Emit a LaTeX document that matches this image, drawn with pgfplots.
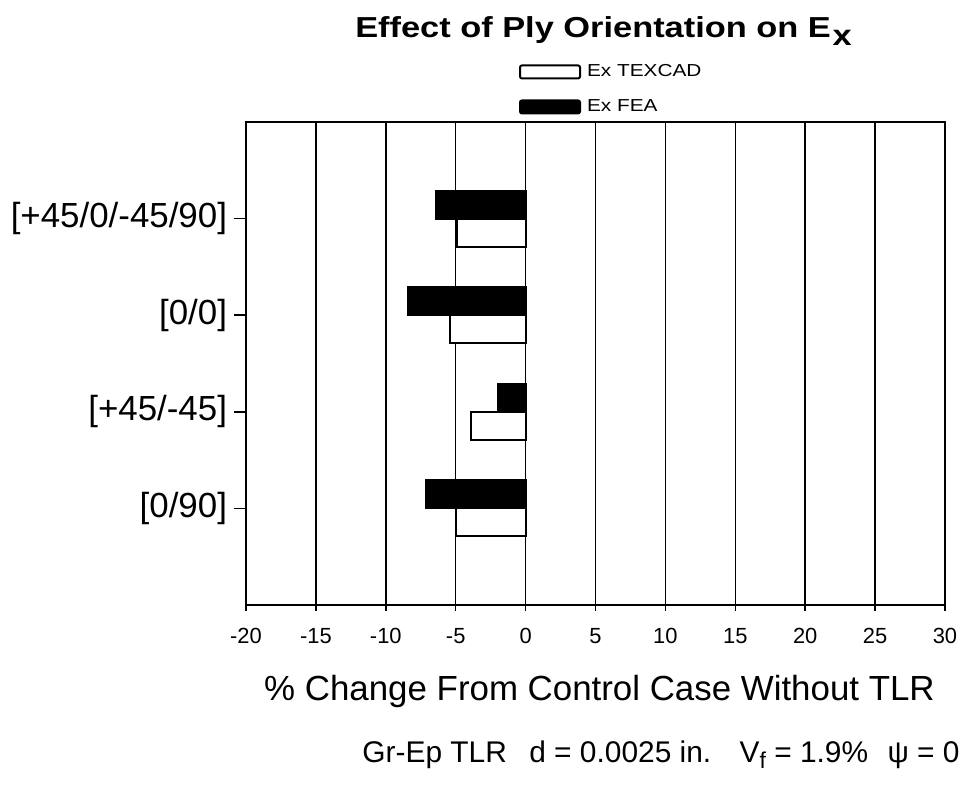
\documentclass[border=0pt]{standalone}
\usepackage{pgfplots}
\pgfplotsset{compat=1.18}
\usepackage{fontspec}
\setmainfont{Liberation Sans}
\begin{document}
\begin{tikzpicture}
\useasboundingbox (-123bp,-93bp) rectangle (359.5bp,302.5bp);
\begin{axis}[
  scale only axis, width=349.5bp, height=241.5bp,
  at={(0,0)}, anchor=south west,
  xbar, bar width=14bp,
  xmin=-20, xmax=30, ymin=0, ymax=5,
  xtick={-20,-15,...,30}, ytick={1,2,3,4},
  yticklabels={{[0/90]},{[+45/-45]},{[0/0]},{[+45/0/-45/90]}},
  xtick pos=bottom, ytick pos=left,
  tick align=center, major tick length=6bp,
  tick style={black, line width=0.75bp},
  ytick style={xshift=-3bp},
  xmajorgrids, major x grid style={black, line width=0.75bp},
  axis line style={line width=1bp},
  /pgf/number format/assume math mode=true,
  xticklabel style={font=\fontsize{11}{13}\selectfont, yshift=-5bp},
  yticklabel style={font=\fontsize{17.5}{20}\selectfont, xshift=-3bp},
  legend cell align=left,
  legend style={draw=none, fill=none, at={(0.39,1.12)}, anchor=north west,
    font=\fontsize{8.7}{10}\selectfont, row sep=10bp, column sep=3bp, inner sep=0pt,
    nodes={inner sep=0pt, text height=6bp, text depth=1bp}},
  legend image code/.code={\draw[#1, line width=1bp, rounded corners=1bp] (0bp,-3.25bp) rectangle (30bp,3.25bp);},
  clip=false,
]
\addplot[draw=black, fill=white, line width=1bp, bar shift=-7bp] coordinates {(-5.0,1) (-3.9,2) (-5.4,3) (-4.9,4)};
\addlegendentry{\scalebox{1.2}[1]{Ex TEXCAD}}
\addplot[draw=black, fill=black, line width=1bp, bar shift=7bp] coordinates {(-7.1,1) (-2.0,2) (-8.4,3) (-6.4,4)};
\addlegendentry{\scalebox{1.2}[1]{Ex FEA}}
\node[anchor=base, font=\fontsize{14.5}{17}\selectfont\bfseries, xshift=4bp, yshift=42.5bp] at (rel axis cs:0.5,1)
  {\scalebox{1.19}[1]{Effect of Ply Orientation on E\kern0.05em\raisebox{-4bp}{x}}};
\node[anchor=base, font=\fontsize{17.5}{20}\selectfont, xshift=2bp, yshift=-47.5bp] at (rel axis cs:0.5,0)
  {\% Change From Control Case Without TLR};
\node[anchor=base east, inner sep=0pt, font=\fontsize{15}{18}\selectfont, xshift=357bp, yshift=-78.5bp] at (rel axis cs:0,0)
  {Gr-Ep TLR\hspace{0.75em}d = 0.0025 in.\hspace{0.95em}V\raisebox{-0.4ex}{\fontsize{11.5}{13}\selectfont f} = 1.9\%\hspace{0.65em}ψ = 0};
\end{axis}
\end{tikzpicture}
\end{document}
